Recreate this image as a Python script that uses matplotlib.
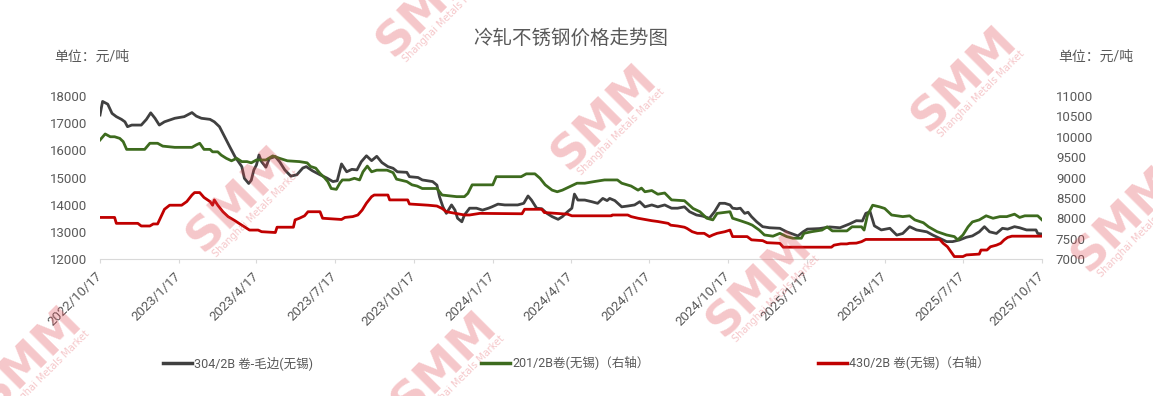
import numpy as np
import pandas as pd
import matplotlib
matplotlib.use('Agg')
import matplotlib.pyplot as plt
from matplotlib.lines import Line2D

# 304/2B 卷-毛边(无锡), 左轴
dates_304 = ['2022-10-17', '2022-10-20', '2022-10-26', '2022-10-31', '2022-11-05', '2022-11-11', '2022-11-15',
             '2022-11-18', '2022-11-23', '2022-12-04', '2022-12-10', '2022-12-15', '2022-12-20', '2022-12-25',
             '2022-12-31', '2023-01-12', '2023-01-23', '2023-02-01', '2023-02-06', '2023-02-12', '2023-02-22',
             '2023-02-27', '2023-03-05', '2023-03-11', '2023-03-17', '2023-03-23', '2023-03-31', '2023-04-03',
             '2023-04-08', '2023-04-11', '2023-04-14', '2023-04-17', '2023-04-20', '2023-04-23', '2023-04-28',
             '2023-05-02', '2023-05-09', '2023-05-14', '2023-05-20', '2023-05-27', '2023-06-03', '2023-06-10',
             '2023-06-14', '2023-06-21', '2023-06-30', '2023-07-08', '2023-07-15', '2023-07-20', '2023-07-25',
             '2023-07-31', '2023-08-06', '2023-08-12', '2023-08-17', '2023-08-23', '2023-08-29', '2023-09-04',
             '2023-09-10', '2023-09-17', '2023-09-23', '2023-09-28', '2023-10-09', '2023-10-12', '2023-10-22',
             '2023-10-27', '2023-11-08', '2023-11-13', '2023-11-16', '2023-11-20', '2023-11-24', '2023-11-30',
             '2023-12-04', '2023-12-07', '2023-12-12', '2023-12-15', '2023-12-21', '2023-12-29', '2024-01-05',
             '2024-01-12', '2024-01-16', '2024-01-23', '2024-01-31', '2024-02-15', '2024-02-22', '2024-02-27',
             '2024-03-02', '2024-03-08', '2024-03-14', '2024-03-20', '2024-03-26', '2024-04-02', '2024-04-07',
             '2024-04-13', '2024-04-18', '2024-04-21', '2024-04-25', '2024-05-03', '2024-05-11', '2024-05-18',
             '2024-05-24', '2024-05-29', '2024-06-01', '2024-06-07', '2024-06-15', '2024-06-22', '2024-06-30',
             '2024-07-06', '2024-07-12', '2024-07-20', '2024-07-27', '2024-08-04', '2024-08-12', '2024-08-19',
             '2024-08-27', '2024-09-02', '2024-09-10', '2024-09-17', '2024-09-25', '2024-10-01', '2024-10-07',
             '2024-10-13', '2024-10-19', '2024-10-22', '2024-10-27', '2024-10-31', '2024-11-05', '2024-11-09',
             '2024-11-13', '2024-11-19', '2024-11-26', '2024-12-04', '2024-12-16', '2024-12-24', '2024-12-31',
             '2025-01-06', '2025-01-12', '2025-01-17', '2025-01-31', '2025-02-12', '2025-02-24', '2025-03-07',
             '2025-03-15', '2025-03-22', '2025-03-26', '2025-03-31', '2025-04-05', '2025-04-13', '2025-04-23',
             '2025-05-01', '2025-05-08', '2025-05-16', '2025-05-24', '2025-06-05', '2025-06-12', '2025-06-20',
             '2025-06-28', '2025-07-05', '2025-07-13', '2025-07-21', '2025-07-28', '2025-08-05', '2025-08-11',
             '2025-08-17', '2025-08-25', '2025-09-01', '2025-09-07', '2025-09-15', '2025-09-21', '2025-09-29',
             '2025-10-10', '2025-10-12', '2025-10-17']
price_304 = [17300, 17800, 17700, 17360, 17240, 17140, 17050,
             16870, 16930, 16930, 17140, 17380, 17180, 16930,
             17050, 17180, 17240, 17390, 17260, 17180, 17140,
             17050, 16870, 16500, 16130, 15770, 15400, 14970,
             14780, 14900, 15280, 15460, 15830, 15580, 15380,
             15700, 15770, 15580, 15280, 15050, 15100, 15350,
             15400, 15250, 15100, 14980, 14850, 14880, 15500,
             15210, 15300, 15280, 15580, 15800, 15620, 15780,
             15550, 15400, 15340, 15210, 15190, 15030, 15000,
             14910, 14850, 14720, 14290, 13920, 13680, 13990,
             13800, 13500, 13370, 13620, 13870, 13870, 13800,
             13870, 13920, 14020, 13990, 13990, 14050, 14320,
             14170, 13870, 13850, 13680, 13560, 13460, 13560,
             13740, 13870, 14390, 14170, 14170, 14110, 14050,
             14230, 14150, 14230, 14150, 13920, 13950, 13990,
             14110, 13920, 13990, 13920, 13990, 13870, 13870,
             13920, 13740, 13620, 13580, 13500, 13740, 14050,
             14050, 13990, 13870, 13850, 13870, 13680, 13720,
             13560, 13370, 13190, 13150, 13130, 13000, 12920,
             12850, 13000, 13100, 13120, 13180, 13150, 13290,
             13410, 13400, 13680, 13740, 13220, 13070, 13130,
             12880, 12940, 13190, 13070, 13000, 12880, 12760,
             12640, 12640, 12700, 12800, 12850, 13000, 13190,
             13000, 12940, 13130, 13100, 13190, 13150, 13070,
             13070, 12940, 12920]

# 201/2B卷(无锡), 右轴
dates_201 = ['2022-10-17', '2022-10-23', '2022-10-29', '2022-11-03', '2022-11-09', '2022-11-13', '2022-11-17',
             '2022-12-08', '2022-12-14', '2022-12-23', '2022-12-29', '2023-01-12', '2023-02-01', '2023-02-06',
             '2023-02-10', '2023-02-15', '2023-02-22', '2023-02-25', '2023-03-03', '2023-03-07', '2023-03-13',
             '2023-03-19', '2023-03-25', '2023-03-31', '2023-04-06', '2023-04-11', '2023-04-17', '2023-04-28',
             '2023-05-06', '2023-05-14', '2023-05-23', '2023-06-06', '2023-06-15', '2023-06-19', '2023-06-25',
             '2023-06-30', '2023-07-05', '2023-07-09', '2023-07-13', '2023-07-19', '2023-07-23', '2023-07-26',
             '2023-08-03', '2023-08-09', '2023-08-15', '2023-08-19', '2023-08-24', '2023-08-29', '2023-09-04',
             '2023-09-16', '2023-09-23', '2023-09-27', '2023-10-09', '2023-10-15', '2023-10-21', '2023-10-27',
             '2023-11-13', '2023-11-19', '2023-12-06', '2023-12-15', '2023-12-19', '2023-12-24', '2024-01-17',
             '2024-01-21', '2024-02-19', '2024-02-25', '2024-03-06', '2024-03-12', '2024-03-18', '2024-03-26',
             '2024-04-01', '2024-04-07', '2024-04-15', '2024-04-24', '2024-05-03', '2024-05-14', '2024-05-26',
             '2024-06-10', '2024-06-15', '2024-06-26', '2024-07-04', '2024-07-08', '2024-07-12', '2024-07-20',
             '2024-07-27', '2024-08-04', '2024-08-12', '2024-08-27', '2024-09-06', '2024-09-14', '2024-09-22',
             '2024-09-29', '2024-10-04', '2024-10-19', '2024-10-22', '2024-10-31', '2024-11-09', '2024-11-14',
             '2024-11-22', '2024-11-28', '2024-12-08', '2024-12-16', '2024-12-24', '2024-12-31', '2025-01-10',
             '2025-01-13', '2025-01-22', '2025-02-03', '2025-02-09', '2025-02-15', '2025-03-04', '2025-03-10',
             '2025-03-21', '2025-03-24', '2025-03-28', '2025-04-03', '2025-04-11', '2025-04-17', '2025-04-25',
             '2025-05-08', '2025-05-16', '2025-05-22', '2025-06-01', '2025-06-07', '2025-06-17', '2025-06-28',
             '2025-07-07', '2025-07-11', '2025-07-17', '2025-07-23', '2025-07-28', '2025-08-05', '2025-08-13',
             '2025-08-21', '2025-08-29', '2025-09-06', '2025-09-15', '2025-09-21', '2025-09-27', '2025-10-12',
             '2025-10-17']
price_201 = [9920, 10068, 10000, 10000, 9960, 9880, 9690,
             9690, 9840, 9840, 9770, 9740, 9740, 9800,
             9840, 9690, 9690, 9630, 9630, 9550, 9470,
             9410, 9470, 9390, 9390, 9360, 9430, 9430,
             9530, 9470, 9410, 9390, 9360, 9270, 9230,
             9100, 9000, 8900, 8730, 8710, 8860, 8940,
             8940, 8980, 8940, 9140, 9280, 9140, 9180,
             9180, 9120, 8960, 8900, 8820, 8790, 8730,
             8730, 8570, 8530, 8530, 8610, 8820, 8820,
             9020, 9020, 9090, 9090, 8980, 8820, 8690,
             8650, 8690, 8770, 8860, 8860, 8900, 8940,
             8940, 8860, 8790, 8690, 8740, 8650, 8680,
             8590, 8620, 8450, 8430, 8240, 8160, 8000,
             7960, 8120, 8160, 8000, 7940, 7875, 7830,
             7710, 7590, 7560, 7630, 7550, 7510, 7510,
             7630, 7670, 7710, 7790, 7690, 7690, 7790,
             7790, 7710, 8080, 8320, 8280, 8240, 8080,
             8040, 8060, 7960, 7890, 7790, 7670, 7590,
             7550, 7470, 7590, 7790, 7910, 7960, 8060,
             8000, 8040, 8040, 8100, 8020, 8060, 8060,
             7960]

# 430/2B 卷(无锡), 右轴
dates_430 = ['2022-10-17', '2022-11-03', '2022-11-05', '2022-11-30', '2022-12-04', '2022-12-14', '2022-12-18',
             '2022-12-23', '2022-12-27', '2022-12-31', '2023-01-06', '2023-01-20', '2023-01-26', '2023-02-01',
             '2023-02-04', '2023-02-10', '2023-02-15', '2023-02-22', '2023-02-25', '2023-02-27', '2023-03-03',
             '2023-03-09', '2023-03-15', '2023-03-23', '2023-03-31', '2023-04-09', '2023-04-19', '2023-04-23',
             '2023-05-09', '2023-05-11', '2023-05-30', '2023-06-01', '2023-06-06', '2023-06-12', '2023-06-16',
             '2023-06-30', '2023-07-03', '2023-07-25', '2023-07-29', '2023-08-07', '2023-08-13', '2023-08-18',
             '2023-08-23', '2023-08-29', '2023-09-01', '2023-09-17', '2023-09-19', '2023-10-10', '2023-10-12',
             '2023-11-03', '2023-11-13', '2023-11-19', '2023-11-24', '2023-12-15', '2023-12-21', '2024-01-02',
             '2024-02-20', '2024-02-23', '2024-03-14', '2024-03-17', '2024-04-13', '2024-04-18', '2024-06-03',
             '2024-06-04', '2024-06-22', '2024-06-26', '2024-07-04', '2024-07-12', '2024-07-20', '2024-07-27',
             '2024-08-08', '2024-08-11', '2024-08-19', '2024-08-27', '2024-08-30', '2024-09-05', '2024-09-11',
             '2024-09-19', '2024-09-25', '2024-09-29', '2024-10-04', '2024-10-13', '2024-10-19', '2024-10-22',
             '2024-11-08', '2024-11-13', '2024-11-26', '2024-12-01', '2024-12-16', '2024-12-20', '2025-02-14',
             '2025-02-17', '2025-02-25', '2025-03-04', '2025-03-07', '2025-03-15', '2025-03-21', '2025-03-26',
             '2025-06-20', '2025-06-24', '2025-06-29', '2025-07-03', '2025-07-07', '2025-07-17', '2025-07-21',
             '2025-08-05', '2025-08-07', '2025-08-14', '2025-08-18', '2025-08-25', '2025-08-30', '2025-09-03',
             '2025-09-07', '2025-09-12', '2025-10-17']
price_430 = [8020, 8020, 7875, 7875, 7810, 7810, 7860,
             7860, 8040, 8220, 8320, 8320, 8410, 8570,
             8630, 8630, 8510, 8410, 8320, 8450, 8320,
             8160, 8040, 7940, 7830, 7710, 7710, 7670,
             7650, 7780, 7780, 7960, 8000, 8060, 8160,
             8160, 8000, 7970, 8020, 8040, 8080, 8200,
             8370, 8530, 8570, 8570, 8450, 8450, 8350,
             8320, 8300, 8240, 8160, 8080, 8080, 8120,
             8110, 8220, 8220, 8140, 8100, 8060, 8060,
             8080, 8080, 8040, 8000, 7970, 7940, 7920,
             7875, 7830, 7810, 7780, 7750, 7670, 7630,
             7630, 7550, 7590, 7630, 7670, 7710, 7550,
             7550, 7470, 7450, 7400, 7385, 7290, 7290,
             7340, 7370, 7370, 7385, 7390, 7425, 7480,
             7480, 7385, 7300, 7180, 7060, 7060, 7100,
             7120, 7220, 7220, 7300, 7340, 7385, 7470,
             7530, 7560, 7560]

tick_labels = ['2022/10/17', '2023/1/17', '2023/4/17', '2023/7/17', '2023/10/17', '2024/1/17', '2024/4/17',
               '2024/7/17', '2024/10/17', '2025/1/17', '2025/4/17', '2025/7/17', '2025/10/17']
series_names = ['304/2B 卷-毛边(无锡)', '201/2B卷(无锡)（右轴）', '430/2B 卷(无锡)（右轴）']
series_colors = ['#404040', '#3d6b1e', '#c00000']

plt.rcParams['font.family'] = ['Roboto', 'Noto Sans CJK SC', 'DejaVu Sans']
W, H = 1153, 396
txt_color = '#595959'

fig = plt.figure(figsize=(W / 100, H / 100), dpi=100)
ax = fig.add_axes([100 / W, 1 - 259 / H, 942 / W, 163 / H])
ax2 = ax.twinx()

ax.plot(pd.to_datetime(dates_304), price_304, color=series_colors[0], lw=2.0)
ax2.plot(pd.to_datetime(dates_201), price_201, color=series_colors[1], lw=2.0)
ax2.plot(pd.to_datetime(dates_430), price_430, color=series_colors[2], lw=2.0)

ticks = pd.to_datetime(tick_labels, format='%Y/%m/%d')
ax.set_xlim(ticks[0], ticks[-1])
ax.set_xticks(ticks)
ax.set_xticklabels(tick_labels, rotation=45, ha='right', va='center', rotation_mode='anchor',
                   fontsize=9.5, color=txt_color)
ax.tick_params(axis='x', length=3, color='#d9d9d9', pad=8)

ax.set_ylim(12000, 18000)
ax.set_yticks(range(12000, 18001, 1000))
ax.tick_params(axis='y', length=0, pad=9, labelsize=9.5, labelcolor=txt_color)
ax2.set_ylim(7000, 11000)
ax2.set_yticks(range(7000, 11001, 500))
ax2.tick_params(axis='y', length=0, pad=10, labelsize=9.5, labelcolor=txt_color)

for a in (ax, ax2):
    for s in ('top', 'left', 'right'):
        a.spines[s].set_visible(False)
ax.spines['bottom'].set_color('#d9d9d9')
ax2.spines['bottom'].set_visible(False)

fig.text(571 / W, 1 - 38 / H, '冷轧不锈钢价格走势图', ha='center', va='center', fontsize=14, color=txt_color)
fig.text(54 / W, 1 - 57 / H, '单位：元/吨', ha='left', va='center', fontsize=10, color=txt_color)
fig.text(1058 / W, 1 - 57 / H, '单位：元/吨', ha='left', va='center', fontsize=10, color=txt_color)

handles = [Line2D([], [], color=c, lw=2.5) for c in series_colors]
fig.legend(handles, series_names, loc='center left', bbox_to_anchor=(163 / W, 1 - 363 / H), ncol=3,
           frameon=False, fontsize=9, labelcolor=txt_color, handlelength=2.3, handletextpad=0.15,
           columnspacing=13.5, borderpad=0, borderaxespad=0)

# 水印
def watermark(cx, cy):
    fig.text(cx / W, 1 - cy / H, 'SMM', rotation=45, ha='center', va='center', fontsize=34,
             fontweight='bold', family='DejaVu Sans', color='#e0464f', alpha=0.3, zorder=10)
    fig.text((cx + 16) / W, 1 - (cy + 14) / H, 'Shanghai Metals Market', rotation=45, ha='center', va='center',
             fontsize=7, family='DejaVu Sans', color='#e0464f', alpha=0.3, zorder=10)

for cx, cy in [(430, 5), (605, 118), (240, 200), (965, 80), (760, 285), (445, 365), (1125, 220), (30, 360)]:
    watermark(cx, cy)

fig.savefig('out.png', dpi=100)
